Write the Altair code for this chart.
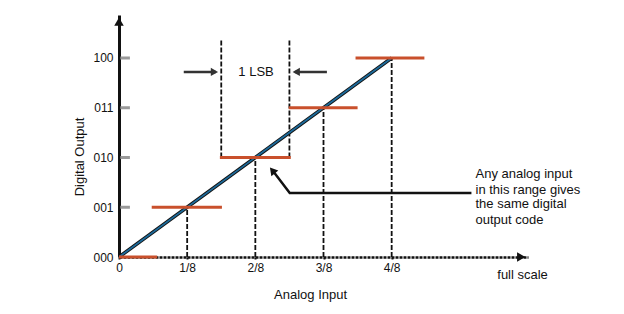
import altair as alt
import pandas as pd

# ---- data ----
x_ticks = [0, 1, 2, 3, 4]
x_tick_labels = ["0", "1/8", "2/8", "3/8", "4/8"]
y_levels = [0, 1, 2, 3, 4]
y_codes = ["000", "001", "010", "011", "100"]

# quantisation steps (level, start, end) in units of 1/8 full scale
step_level = [0, 1, 2, 3, 4]
step_start = [0.0, 0.48, 1.48, 2.49, 3.47]
step_end = [0.56, 1.51, 2.52, 3.5, 4.48]

# ideal transfer line
ideal_x = [0, 4]
ideal_y = [0, 4]

annotation_lines = ["Any analog input", "in this range gives", "the same digital", "output code"]

FONT = "Liberation Sans"
BLACK = "#111111"
ORANGE = "#c9502c"
BLUE = "#1d6b9b"

X = alt.Scale(domain=[0, 6], nice=False, zero=False)
Y = alt.Scale(domain=[0, 4.864], nice=False, zero=False)

xlab = "[" + ",".join("'%s'" % s for s in x_tick_labels) + "][datum.value]"
ylab = "[" + ",".join("'%s'" % s for s in y_codes) + "][datum.value]"

# base with axes
base_df = pd.DataFrame({"x": [0], "y": [0]})
axes = alt.Chart(base_df).mark_point(opacity=0).encode(
    x=alt.X("x:Q", scale=X, title=None,
            axis=alt.Axis(values=x_ticks, labelExpr=xlab, grid=False,
                          domainColor=BLACK, domainWidth=2.5, domainDash=[3, 1],
                          tickColor=BLACK, tickSize=2, tickWidth=2,
                          labelFont=FONT, labelFontSize=12, labelColor=BLACK,
                          labelPadding=3, labelFlush=False)),
    y=alt.Y("y:Q", scale=Y, title=None,
            axis=alt.Axis(values=y_levels, labelExpr=ylab, grid=False,
                          domainColor=BLACK, domainWidth=3, ticks=False,
                          labelFont=FONT, labelFontSize=12, labelColor=BLACK,
                          labelPadding=6)),
)

# dashed vertical guides
guide_df = pd.DataFrame({
    "x": [1, 2, 3, 4, 1.5, 2.5],
    "y0": [0, 0, 0, 0, 2, 2],
    "y1": [1, 2, 3, 4, 4.36, 4.36],
})
guides = alt.Chart(guide_df).mark_rule(color=BLACK, strokeWidth=1.8, strokeDash=[5, 2]).encode(
    x=alt.X("x:Q", scale=X), y=alt.Y("y0:Q", scale=Y), y2="y1:Q")

# grey y ticks
tick_df = pd.DataFrame({"y": y_levels[1:], "x0": [0.02] * 4, "x1": [0.16] * 4})
yticks = alt.Chart(tick_df).mark_rule(color="#9a9a9a", strokeWidth=3).encode(
    x=alt.X("x0:Q", scale=X), x2="x1:Q", y=alt.Y("y:Q", scale=Y))

# steps
step_df = pd.DataFrame({"level": step_level, "x0": step_start, "x1": step_end})
steps = alt.Chart(step_df).mark_rule(color=ORANGE, strokeWidth=3.2).encode(
    x=alt.X("x0:Q", scale=X), x2="x1:Q", y=alt.Y("level:Q", scale=Y))

# ideal line
ideal_df = pd.DataFrame({"x": ideal_x, "y": ideal_y})
ideal_out = alt.Chart(ideal_df).mark_line(color=BLACK, strokeWidth=3.5).encode(
    x=alt.X("x:Q", scale=X), y=alt.Y("y:Q", scale=Y))
ideal_in = alt.Chart(ideal_df).mark_line(color=BLUE, strokeWidth=1.8).encode(
    x=alt.X("x:Q", scale=X), y=alt.Y("y:Q", scale=Y))

# 1 LSB arrows
lsb_df = pd.DataFrame({"x0": [0.95, 3.05], "x1": [1.42, 2.58], "y": [3.72, 3.72]})
lsb_lines = alt.Chart(lsb_df).mark_rule(color="#333333", strokeWidth=2.5).encode(
    x=alt.X("x0:Q", scale=X), x2="x1:Q", y=alt.Y("y:Q", scale=Y))
lsb_heads = alt.Chart(pd.DataFrame({"x": [1.4, 2.6], "y": [3.72, 3.72],
                                    "shape": ["triangle-right", "triangle-left"]})).mark_point(
    filled=True, color="#333333", size=70, opacity=1).encode(
    x=alt.X("x:Q", scale=X), y=alt.Y("y:Q", scale=Y),
    shape=alt.Shape("shape:N", scale=None))
lsb_text = alt.Chart(pd.DataFrame({"x": [2.01], "y": [3.72], "t": ["1 LSB"]})).mark_text(
    font=FONT, fontSize=13, color=BLACK, baseline="middle", align="center").encode(
    x=alt.X("x:Q", scale=X), y=alt.Y("y:Q", scale=Y), text="t:N")

# annotation pointer
ptr_df = pd.DataFrame({"x": [5.17, 2.505, 2.27], "y": [1.286, 1.286, 1.71], "o": [0, 1, 2]})
ptr = alt.Chart(ptr_df).mark_line(color=BLACK, strokeWidth=2.5).encode(
    x=alt.X("x:Q", scale=X), y=alt.Y("y:Q", scale=Y), order="o:Q")
ptr_head = alt.Chart(pd.DataFrame({"x": [2.25], "y": [1.74]})).mark_point(
    shape="triangle-up", filled=True, color=BLACK, size=80, opacity=1, angle=321).encode(
    x=alt.X("x:Q", scale=X), y=alt.Y("y:Q", scale=Y))

ann_df = pd.DataFrame({"x": [5.23] * 4, "y": [1.668, 1.347, 1.065, 0.744], "t": annotation_lines})
ann = alt.Chart(ann_df).mark_text(font=FONT, fontSize=13, color=BLACK, align="left",
                                   baseline="middle").encode(
    x=alt.X("x:Q", scale=X), y=alt.Y("y:Q", scale=Y), text="t:N")

# axis arrow heads
head_df = pd.DataFrame({"x": [0, 5.9], "y": [4.73, 0], "shape": ["triangle-up", "triangle-right"]})
heads = alt.Chart(head_df).mark_point(filled=True, color=BLACK, size=90, opacity=1).encode(
    x=alt.X("x:Q", scale=X), y=alt.Y("y:Q", scale=Y), shape=alt.Shape("shape:N", scale=None))

# titles / extra labels
lbl_df = pd.DataFrame({"x": [2.81, 5.92], "y": [-0.76, -0.36], "t": ["Analog Input", "full scale"]})
lbls = alt.Chart(lbl_df).mark_text(font=FONT, fontSize=13, color=BLACK, align="center",
                                   baseline="middle").encode(
    x=alt.X("x:Q", scale=X), y=alt.Y("y:Q", scale=Y), text="t:N")
ytitle = alt.Chart(pd.DataFrame({"x": [-0.57], "y": [2.01], "t": ["Digital Output"]})).mark_text(
    font=FONT, fontSize=13, color=BLACK, align="center", baseline="middle", angle=270).encode(
    x=alt.X("x:Q", scale=X), y=alt.Y("y:Q", scale=Y), text="t:N")

chart = alt.layer(
    axes, guides, yticks, ideal_out, ideal_in, steps, lsb_lines, lsb_heads, lsb_text,
    ptr, ptr_head, ann, heads, lbls, ytitle
).properties(
    width=409, height=242,
    autosize=alt.AutoSizeParams(type="none"),
    padding={"left": 119, "top": 15, "right": 96, "bottom": 57},
    background="white",
).configure_view(stroke=None)

chart.save("out.html", embed_options={"renderer": "svg", "actions": False})
